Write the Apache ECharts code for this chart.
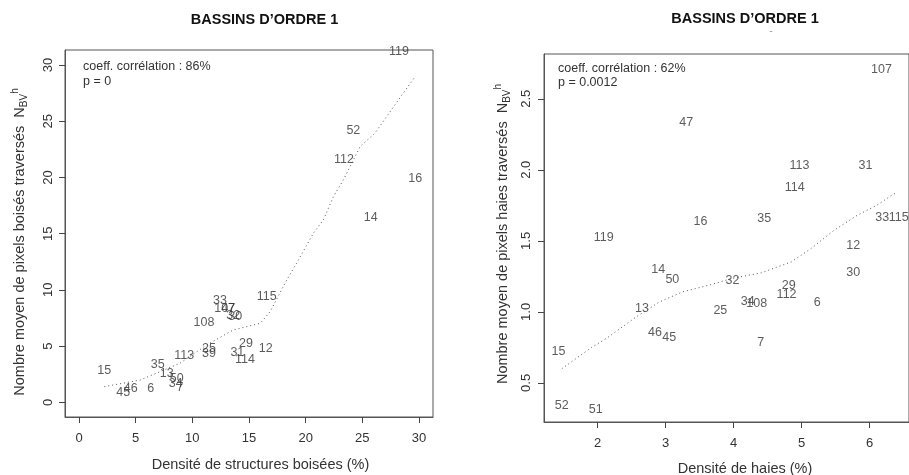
<!DOCTYPE html>
<html>
<head>
<meta charset="utf-8">
<script src="https://cdn.jsdelivr.net/npm/echarts@6/dist/echarts.min.js"></script>
<style>html,body{margin:0;padding:0;background:#fff;}#c{width:909px;height:475px;}</style>
</head>
<body>
<div id="c"></div>
<script>
// ---------- Left panel: Densité de structures boisées ----------
const leftIds = ['119','52','112','16','14','115','33','107','47','32','30','108','29','12','31','114','113','25','39','35','15','13','50','34','7','46','45','6'];
const leftX   = [28.24,24.21,23.39,29.68,25.74,16.57,12.44,12.85,13.16,13.6,13.78,11.03,14.74,16.48,13.97,14.65,9.29,11.47,11.47,6.94,2.23,7.74,8.62,8.53,8.91,4.56,3.9,6.33];
const leftY   = [31.19,24.14,21.62,19.93,16.46,9.4,9.04,8.33,8.33,7.72,7.62,7.08,5.19,4.8,4.41,3.76,4.15,4.8,4.36,3.32,2.78,2.52,2.07,1.63,1.33,1.25,0.85,1.25];
const leftCurveX = [2.23,5.4,8.9,11.27,13.6,16.0,16.86,18.33,19.2,20.68,21.56,22.45,23.33,24.8,26.1,28.5,29.66];
const leftCurveY = [1.39,1.98,3.47,5.1,6.43,7.03,8.06,10.88,12.37,15.04,16.22,18.3,19.78,22.74,23.93,27.34,28.97];
const leftTicks = [0,5,10,15,20,25,30];

// ---------- Right panel: Densité de haies ----------
const rightIds = ['107','47','113','31','114','16','35','33','115','119','12','14','50','32','30','29','112','34','108','6','13','25','46','45','7','15','52','51'];
const rightX   = [6.175,3.305,4.97,5.94,4.90,3.515,4.45,6.185,6.43,2.09,5.76,2.893,3.10,3.985,5.76,4.81,4.78,4.21,4.34,5.23,2.655,3.806,2.845,3.053,4.40,1.426,1.475,1.975];
const rightY   = [2.709,2.331,2.028,2.028,1.876,1.634,1.658,1.665,1.665,1.524,1.47,1.30,1.23,1.223,1.275,1.188,1.122,1.075,1.059,1.066,1.024,1.007,0.855,0.82,0.785,0.718,0.343,0.313];
const rightCurveX = [1.475,1.91,2.13,2.57,2.91,3.25,3.64,3.975,4.41,4.85,5.14,5.48,5.82,6.11,6.33,6.4];
const rightCurveY = [0.60,0.749,0.813,0.965,1.07,1.141,1.188,1.235,1.275,1.352,1.446,1.575,1.68,1.751,1.822,1.84];
const rightXTicks = [2,3,4,5,6];
const rightYTicks = [0.5,1.0,1.5,2.0,2.5];

const FF = '"Liberation Sans", Arial, Helvetica, sans-serif';
const TXT = '#333';
const AX = '#555';

function pts(ids, xs, ys){ return ids.map((id,i)=>({name:id, value:[xs[i], ys[i]]})); }
function curve(xs, ys){ return xs.map((x,i)=>[x, ys[i]]); }

function xAx(idx, min, max, ticks, margin){
  return {type:'value', gridIndex:idx, min:min, max:max,
    axisLine:{show:true, onZero:false, lineStyle:{color:AX, width:1}}, splitLine:{show:false},
    axisTick:{show:true, customValues:ticks, length:6, inside:false, lineStyle:{color:'#444', width:1}},
    axisLabel:{customValues:ticks, margin:margin, color:TXT, fontSize:13, fontFamily:FF}};
}
function yAx(idx, min, max, ticks, margin, fmt){
  return {type:'value', gridIndex:idx, min:min, max:max,
    axisLine:{show:true, onZero:false, lineStyle:{color:AX, width:1}}, splitLine:{show:false},
    axisTick:{show:true, customValues:ticks, length:6, inside:false, lineStyle:{color:'#444', width:1}},
    axisLabel:{customValues:ticks, margin:margin, rotate:90, color:TXT, fontSize:13, fontFamily:FF, formatter:fmt}};
}
function labSeries(idx, data){
  return {type:'scatter', xAxisIndex:idx, yAxisIndex:idx, symbolSize:0, data:data, silent:true,
    label:{show:true, position:'inside', formatter:'{b}', color:TXT, fontSize:12.5, fontFamily:FF}};
}
function lineSeries(idx, data){
  return {type:'line', xAxisIndex:idx, yAxisIndex:idx, data:data, showSymbol:false, smooth:false, silent:true,
    lineStyle:{type:[1,3], width:1, color:'#555'}};
}
const richY = {
  a:{fontSize:14.5, fontFamily:FF, fill:TXT, color:TXT, lineHeight:19, verticalAlign:'middle'},
  s:{fontSize:10, fontFamily:FF, fill:TXT, color:TXT, lineHeight:19, verticalAlign:'bottom'},
  p:{fontSize:10, fontFamily:FF, fill:TXT, color:TXT, lineHeight:19, verticalAlign:'top'}
};
function txt(x, y, s, opts){
  return Object.assign({type:'text', x:x, y:y, silent:true,
    style:Object.assign({text:s, fill:TXT, font:'13px '+FF, align:'center', verticalAlign:'middle',
      textAlign:'center', textVerticalAlign:'middle'}, opts||{})});
}

const chart = echarts.init(document.getElementById('c'), null, {renderer:'canvas'});
chart.setOption({
  animation:false,
  backgroundColor:'#fff',
  grid:[
    {left:65, top:50, width:368, height:367, show:true, borderColor:AX, borderWidth:1, backgroundColor:'transparent'},
    {left:544, top:54, width:368, height:368, show:true, borderColor:AX, borderWidth:1, backgroundColor:'transparent'}
  ],
  xAxis:[ xAx(0, -1.24, 31.24, leftTicks, 15), xAx(1, 1.213, 6.58, rightXTicks, 14.5) ],
  yAxis:[ yAx(0, -1.31, 31.34, leftTicks, 10, v=>String(v)), yAx(1, 0.225, 2.815, rightYTicks, 11, v=>v.toFixed(1)) ],
  series:[
    lineSeries(0, curve(leftCurveX, leftCurveY)),
    labSeries(0, pts(leftIds, leftX, leftY)),
    lineSeries(1, curve(rightCurveX, rightCurveY)),
    labSeries(1, pts(rightIds, rightX, rightY))
  ],
  graphic:[
    txt(264.5, 20, 'BASSINS D’ORDRE 1', {font:'bold 14.5px '+FF, fill:'#111'}),
    txt(745, 19, 'BASSINS D’ORDRE 1', {font:'bold 14.5px '+FF, fill:'#111'}),
    txt(771, 31, '-', {font:'10px '+FF, fill:'#999'}),
    txt(83, 67, 'coeff. corrélation : 86%', {font:'12.5px '+FF, align:'left', textAlign:'left'}),
    txt(83, 82, 'p = 0', {font:'12.5px '+FF, align:'left', textAlign:'left'}),
    txt(558, 69, 'coeff. corrélation : 62%', {font:'12.5px '+FF, align:'left', textAlign:'left'}),
    txt(558, 83, 'p = 0.0012', {font:'12.5px '+FF, align:'left', textAlign:'left'}),
    txt(260.5, 465, 'Densité de structures boisées (%)', {font:'14.5px '+FF}),
    txt(745, 469, 'Densité de haies (%)', {font:'14.5px '+FF}),
    {type:'text', x:20, y:242, rotation:Math.PI/2, silent:true,
      style:{text:'{a|Nombre moyen de pixels boisés traversés  N}{s|BV}{p|h}', rich:richY, fill:TXT,
        font:'14.5px '+FF, align:'center', verticalAlign:'middle', textAlign:'center', textVerticalAlign:'middle'}},
    {type:'text', x:503, y:234, rotation:Math.PI/2, silent:true,
      style:{text:'{a|Nombre moyen de pixels haies traversés  N}{s|BV}{p|h}', rich:richY, fill:TXT,
        font:'14.5px '+FF, align:'center', verticalAlign:'middle', textAlign:'center', textVerticalAlign:'middle'}}
  ]
});
</script>
</body>
</html>
